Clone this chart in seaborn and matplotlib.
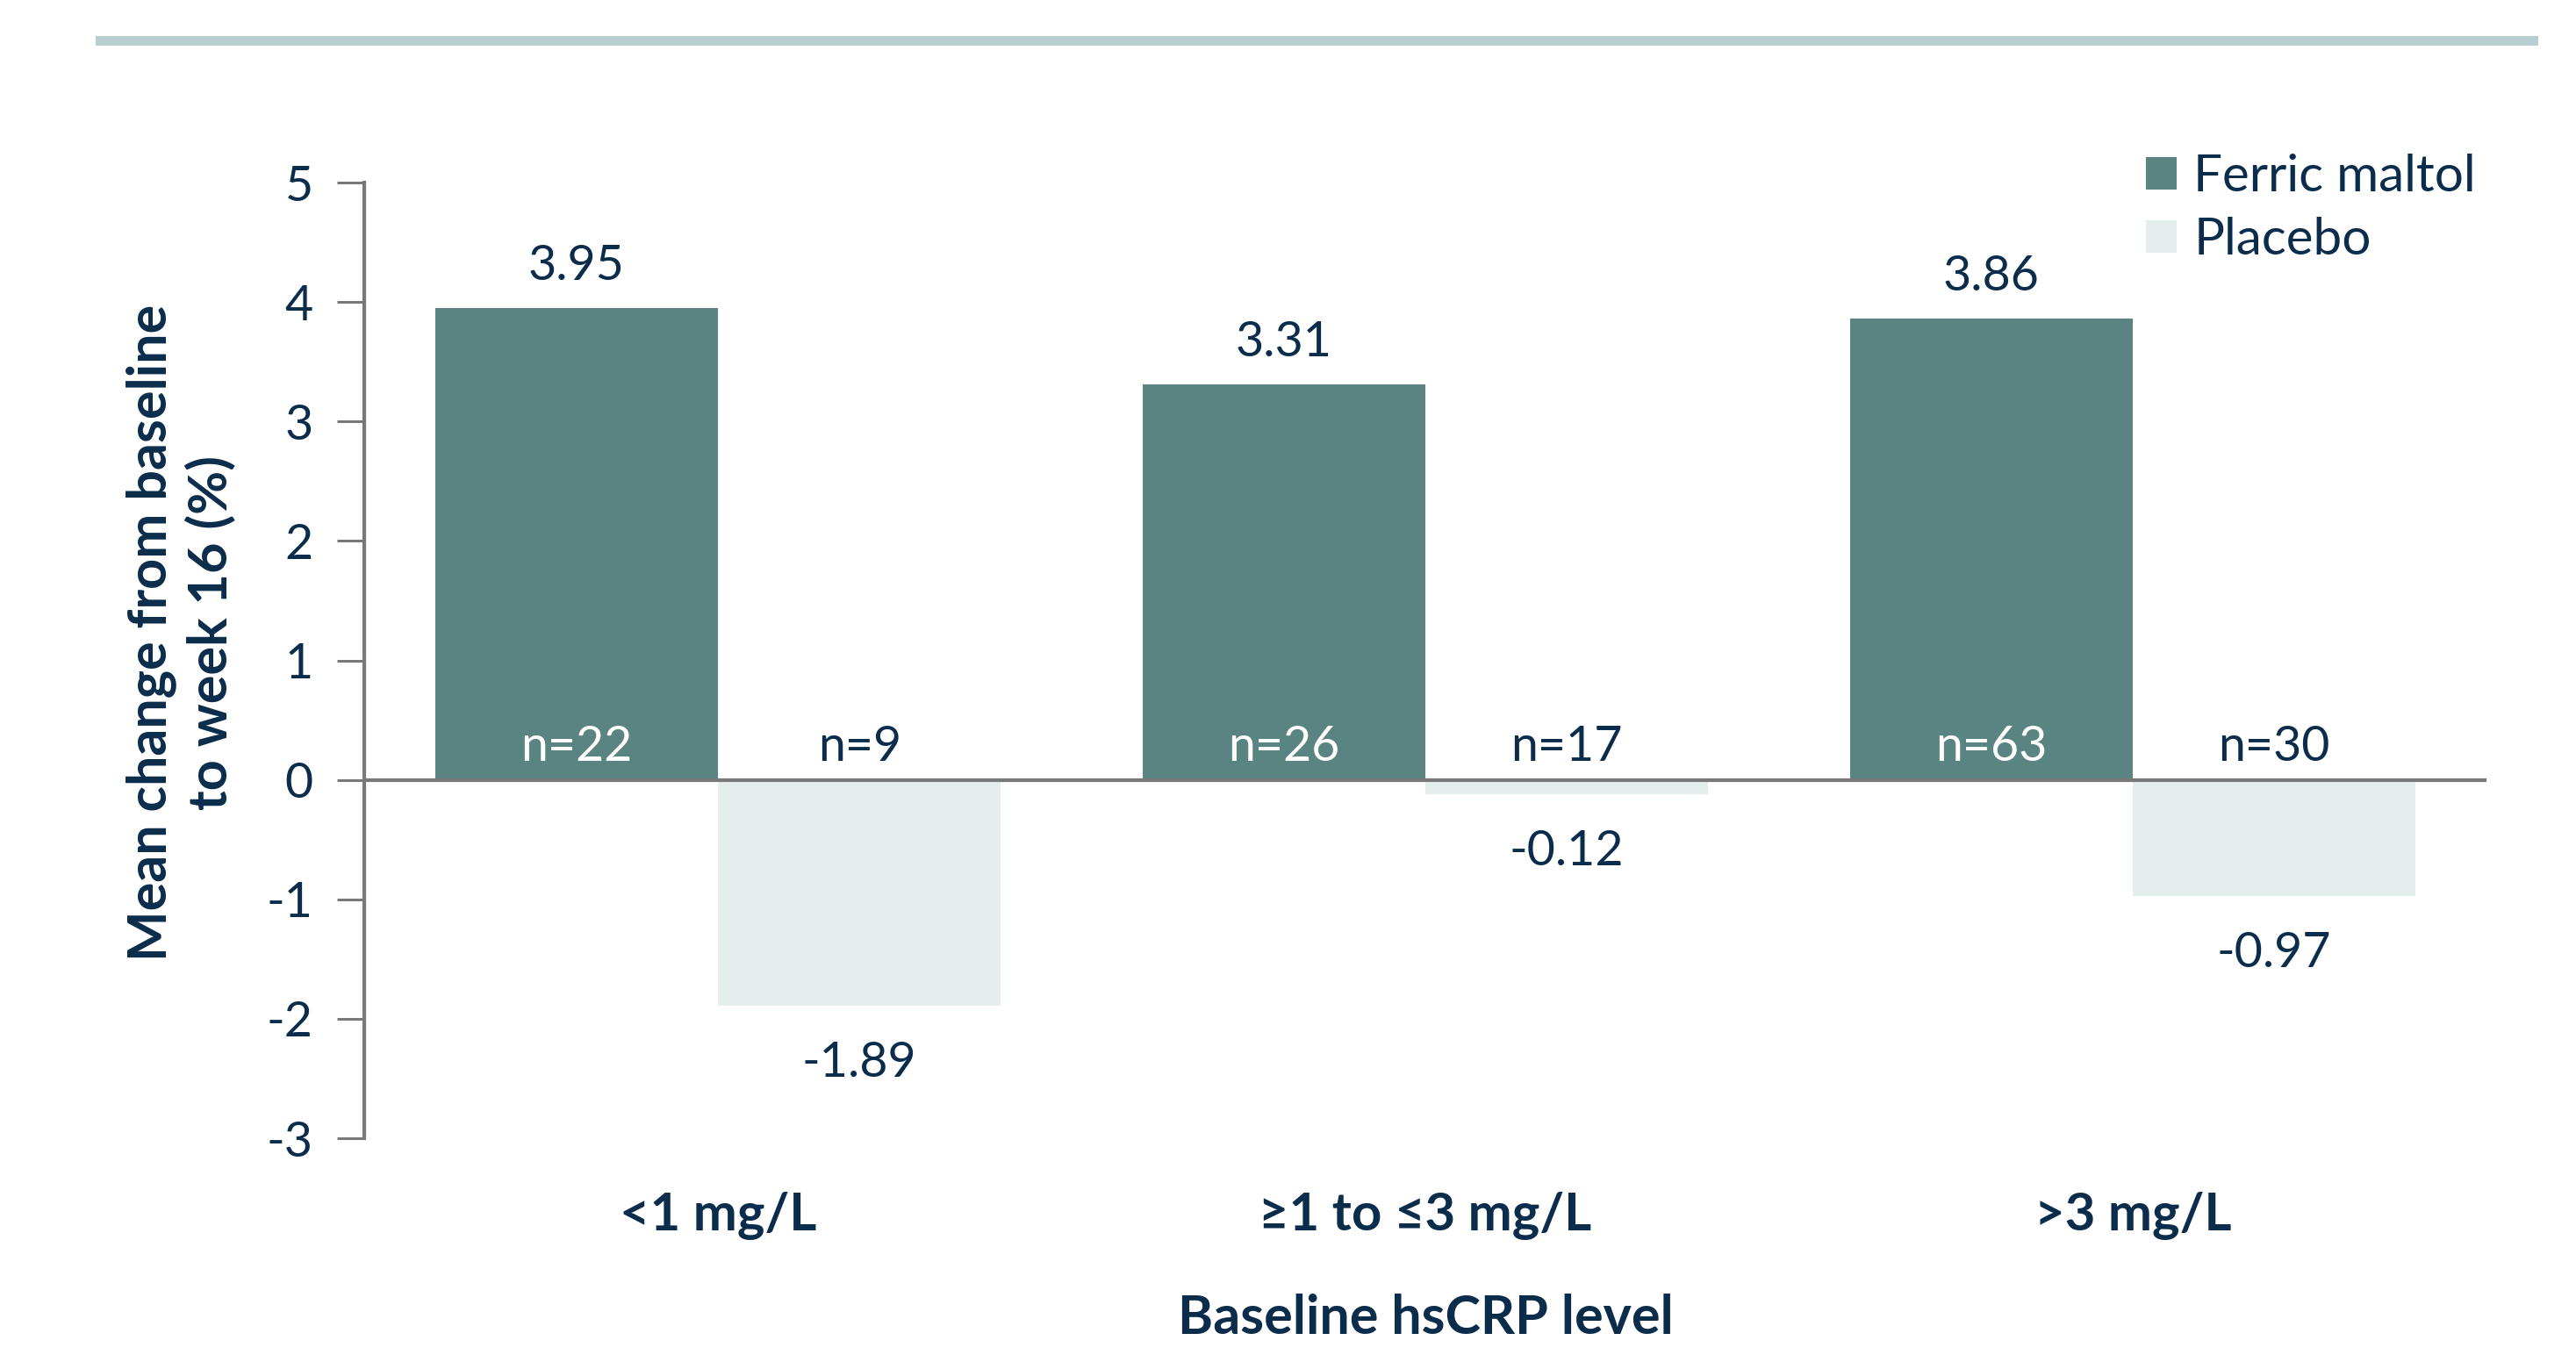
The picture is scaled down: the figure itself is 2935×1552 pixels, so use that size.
import matplotlib
matplotlib.use("Agg")
import matplotlib.pyplot as plt
from matplotlib.patches import Rectangle
import seaborn as sns
import pandas as pd

# ---- data ----
levels = ["<1 mg/L", "\u22651 to \u22643 mg/L", ">3 mg/L"]
treatments = ["Ferric maltol", "Placebo"]
ferric_values = [3.95, 3.31, 3.86]
placebo_values = [-1.89, -0.12, -0.97]
ferric_n = [22, 26, 63]
placebo_n = [9, 17, 30]
y_ticks = [-3, -2, -1, 0, 1, 2, 3, 4, 5]

NAVY = "#0b2d4b"
FERRIC = "#5a8482"
PLACEBO = "#e4eeec"
GRAY = "#787878"
BAND = "#b7cfd1"

df = pd.DataFrame({
    "level": levels * 2,
    "treatment": [treatments[0]] * 3 + [treatments[1]] * 3,
    "change": ferric_values + placebo_values,
})

sns.set_theme(style="white")
plt.rcParams["font.family"] = ["Lato", "DejaVu Sans"]
plt.rcParams["axes.unicode_minus"] = False

W, H = 2935, 1552
fig = plt.figure(figsize=(W / 100, H / 100), dpi=100)
ax = fig.add_axes([415 / W, 1 - 1297 / H, (2833 - 415) / W, (1297 - 208) / H])

sns.barplot(data=df, x="level", y="change", hue="treatment", order=levels,
            hue_order=treatments, palette=[FERRIC, PLACEBO], saturation=1,
            width=0.8, errorbar=None, linewidth=0, ax=ax)

ax.set_xlim(-0.5, 2.5)
ax.set_ylim(-3, 5)
ax.set_yticks(y_ticks)
ax.set_yticklabels([str(t) for t in y_ticks])

for s in ["top", "right", "bottom"]:
    ax.spines[s].set_visible(False)
ax.spines["left"].set_color(GRAY)
ax.spines["left"].set_linewidth(3)
ax.axhline(0, color=GRAY, lw=3, zorder=3)

ax.tick_params(axis="y", length=22, width=2.2, color=GRAY, direction="out",
               labelsize=40, labelcolor=NAVY, pad=20, left=True)
ax.tick_params(axis="x", length=0, pad=44, labelcolor=NAVY, labelsize=43)
for lab in ax.get_xticklabels():
    lab.set_fontweight("bold")

ax.set_xlabel("Baseline hsCRP level", fontsize=44, fontweight="bold",
              color=NAVY, labelpad=44)
ax.set_ylabel("Mean change from baseline\nto week 16 (%)", fontsize=44,
              fontweight="bold", color=NAVY, va="center", ha="center",
              multialignment="center", linespacing=1.2)
ax.yaxis.set_label_coords(-0.0864, 0.529)

# value labels
ferric_c, placebo_c = ax.containers[0], ax.containers[1]
ax.bar_label(ferric_c, labels=[f"{v:.2f}" for v in ferric_values],
             padding=16, fontsize=40, color=NAVY)
ax.bar_label(placebo_c, labels=[f"{v:.2f}" for v in placebo_values],
             padding=29, fontsize=40, color=NAVY)

# n labels
for bars, ns, col in [(ferric_c, ferric_n, "white"), (placebo_c, placebo_n, NAVY)]:
    for patch, n in zip(bars.patches, ns):
        cx = patch.get_x() + patch.get_width() / 2
        ax.annotate(f"n={n}", xy=(cx, 0), xytext=(0, 27), textcoords="offset points",
                    ha="center", va="center", fontsize=40, color=col, zorder=5)

# legend
leg = ax.legend(loc="upper left", bbox_to_anchor=(2445 / W, 1 - 175 / H),
                bbox_transform=fig.transFigure, frameon=False, fontsize=42,
                handlelength=0.6, handleheight=0.6, handletextpad=0.33,
                labelspacing=0.32, borderpad=0, borderaxespad=0)
for t in leg.get_texts():
    t.set_color(NAVY)

# top decorative band
fig.add_artist(Rectangle((109 / W, 1 - 52 / H), (2892 - 109) / W, 11 / H,
                         transform=fig.transFigure, color=BAND, lw=0))

fig.savefig("out.png", dpi=100)
